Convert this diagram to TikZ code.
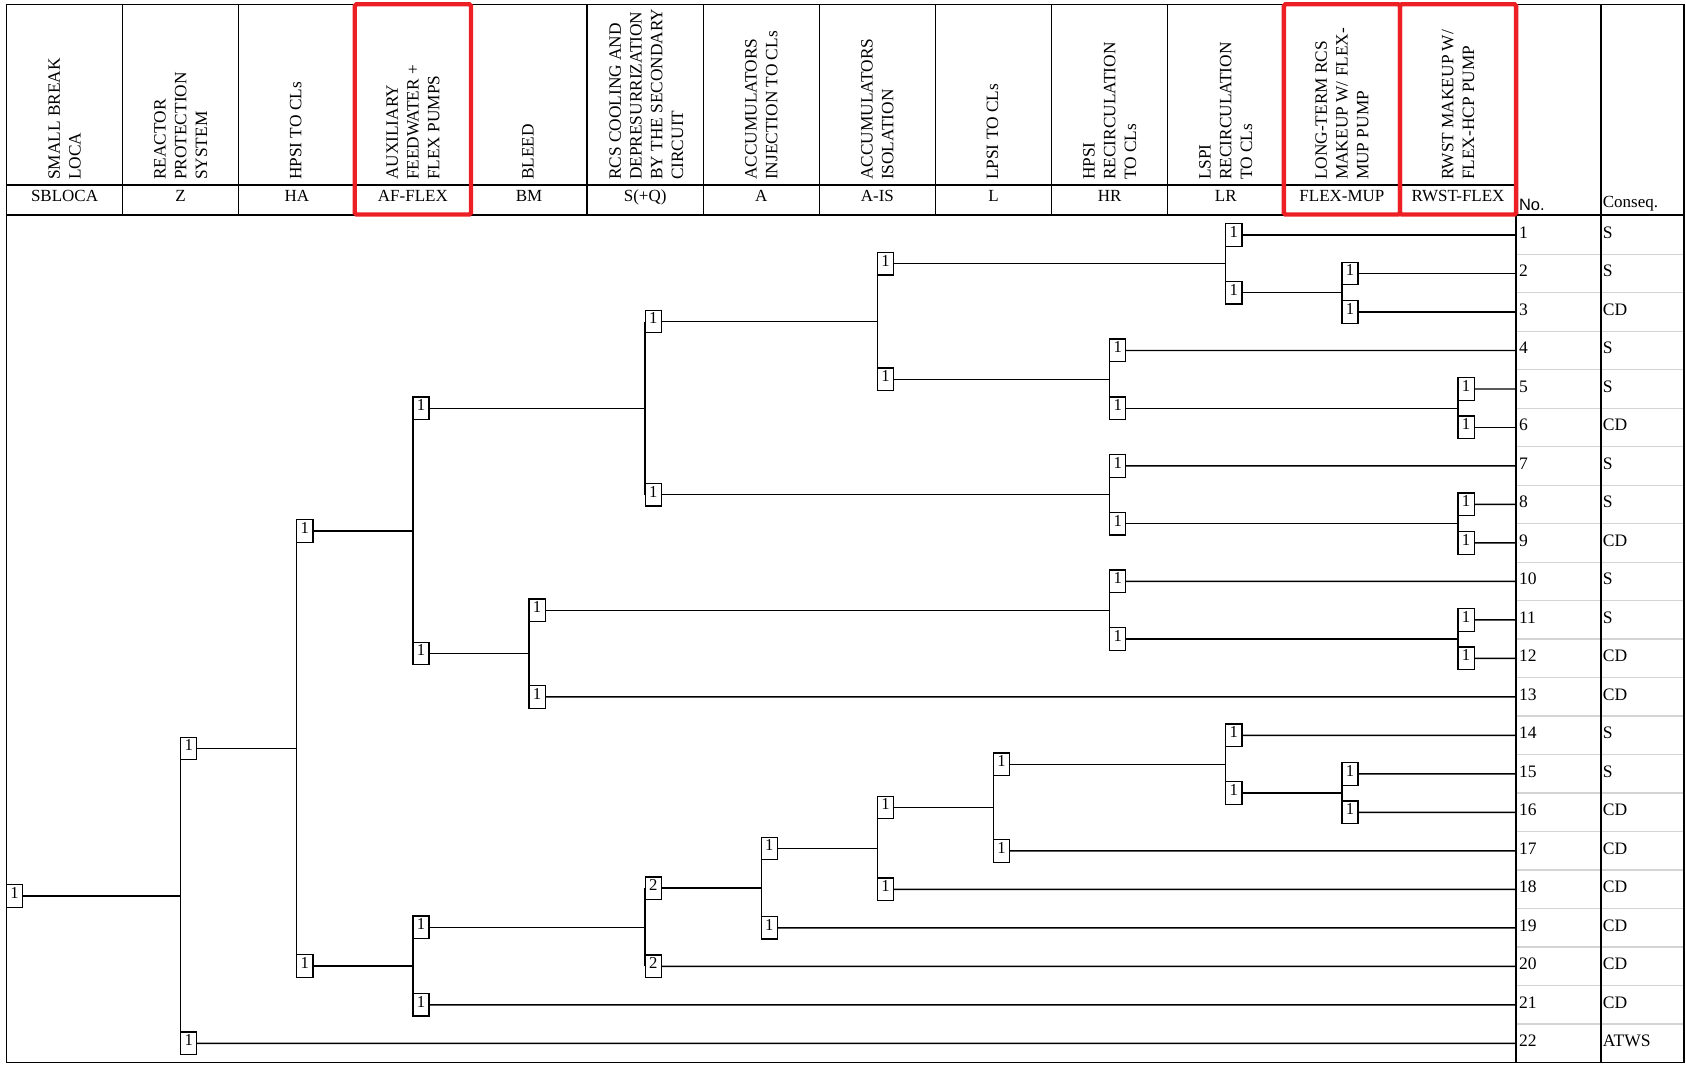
\documentclass[tikz,border=0pt]{standalone}
\usepackage{fontspec}
\setmainfont{Liberation Serif}
\newfontfamily\arialfont{Liberation Sans}
\definecolor{flexred}{RGB}{236,32,36}
\definecolor{sepgray}{RGB}{212,212,212}
\newcommand\hdrfont{\fontsize{16.1}{19.3}\selectfont}
\newcommand\codefont{\fontsize{15.8}{19}\selectfont}
\newcommand\boxfont{\fontsize{15.5}{18}\selectfont}
\newcommand\rowfont{\fontsize{16.3}{19}\selectfont}
\begin{document}
\begin{tikzpicture}[x=1pt,y=-1pt,
  ln/.style={line width=1.25pt},
  tbl/.style={line width=1.3pt},
  bx/.style={draw,line width=1.2pt,fill=white,minimum width=15pt,minimum height=21pt,inner sep=0pt,outer sep=0pt,anchor=west,font=\boxfont,text height=10.5pt,text depth=6.1pt},
  hdr/.style={rotate=90,anchor=west,align=left,inner sep=0pt,font=\hdrfont},
  codetxt/.style={anchor=base,inner sep=0pt,font=\codefont},
  rowtxt/.style={anchor=base west,inner sep=0pt,font=\rowfont},
  redbox/.style={draw=flexred,line width=4pt,rounded corners=1.5pt},
  rowsep/.style={draw=sepgray,line width=1.2pt}]
\useasboundingbox (0,0) rectangle (1568,990.4);
% row separators
\foreach \i in {1,...,21}{
  \draw[rowsep] (1410.7,{218.5+(\i-1)*35.8+17.9}) -- (1565.3,{218.5+(\i-1)*35.8+17.9});
}
% table frame
\draw[tbl] (6,4) rectangle (1566,988);
\draw[tbl] (6,200) -- (1566,200);
\draw[tbl] (6,172) -- (1410,172);
\foreach \x in {114,222,...,1302} \draw[tbl] (\x,4) -- (\x,200);
\draw[tbl] (1410,4) -- (1410,988);
\draw[tbl] (1489,4) -- (1489,988);
% headers
\node[hdr] (h0) at (60,167.5) {SMALL BREAK\\LOCA};
\node[hdr] (h1) at (168,167.5) {REACTOR\\PROTECTION\\SYSTEM};
\node[hdr] (h2) at (275,167.5) {HPSI TO CLs};
\node[hdr] (h3) at (384,167.5) {AUXILIARY\\FEEDWATER +\\FLEX PUMPS};
\node[hdr] (h4) at (491,167.5) {BLEED};
\node[hdr] (h5) at (601,167.5) {RCS COOLING AND\\DEPRESURRIZATION\\BY THE SECONDARY\\CIRCUIT};
\node[hdr] (h6) at (708,167.5) {ACCUMULATORS\\INJECTION TO CLs};
\node[hdr] (h7) at (816,167.5) {ACCUMULATORS\\ISOLATION};
\node[hdr] (h8) at (923,167.5) {LPSI TO CLs};
\node[hdr] (h9) at (1032,167.5) {HPSI\\RECIRCULATION\\TO CLs};
\node[hdr] (h10) at (1140,167.5) {LSPI\\RECIRCULATION\\TO CLs};
\node[hdr] (h11) at (1248,167.5) {LONG-TERM RCS\\MAKEUP W/ FLEX-\\MUP PUMP};
\node[hdr] (h12) at (1356,167.5) {RWST MAKEUP W/\\FLEX-HCP PUMP};
% codes
\foreach \k/\t in {0/SBLOCA,1/Z,2/HA,3/AF-FLEX,4/BM,5/S(+Q),6/A,7/A-IS,8/L,9/HR,10/LR,11/FLEX-MUP,12/RWST-FLEX}
  \node[codetxt] (c\k) at ({60+108*\k},187.5) {\t};
\node[anchor=base west,inner sep=0pt,font=\arialfont\fontsize{15.3}{18}\selectfont] (nohdr) at (1412.5,195.3) {No.};
\node[anchor=base west,inner sep=0pt,font=\codefont] (cqhdr) at (1490.5,193.4) {Conseq.};
% rows
\foreach \i/\c in {1/S,2/S,3/CD,4/S,5/S,6/CD,7/S,8/S,9/CD,10/S,11/S,12/CD,13/CD,14/S,15/S,16/CD,17/CD,18/CD,19/CD,20/CD,21/CD,22/ATWS}{
  \coordinate (e\i) at (1410,{218.5+(\i-1)*35.8});
  \node[rowtxt] (no\i) at (1412.5,{218.5+(\i-1)*35.8+3.1}) {\i};
  \node[rowtxt] (cq\i) at (1490.5,{218.5+(\i-1)*35.8+3.1}) {\c};
}
% tree nodes
\node[bx] (n0) at (6,833.2) {1};
\node[bx] (zU) at (168,696.06) {1};
\node[bx] (zD) at (168,970.3) {1};
\node[bx] (haU) at (276,493.7) {1};
\node[bx] (haD) at (276,898.42) {1};
\node[bx] (af1) at (384,379.6) {1};
\node[bx] (af2) at (384,607.8) {1};
\node[bx] (af3) at (384,862.34) {1};
\node[bx] (af4) at (384,934.5) {1};
\node[bx] (bm1) at (492,567.55) {1};
\node[bx] (bm2) at (492,648.1) {1};
\node[bx] (s1) at (600,299.05) {1};
\node[bx] (s2) at (600,460.15) {1};
\node[bx] (s3) at (600,825.98) {2};
\node[bx] (s4) at (600,898.7) {2};
\node[bx] (a1) at (708,789.05) {1};
\node[bx] (a2) at (708,862.9) {1};
\node[bx] (ai1) at (816,245.35) {1};
\node[bx] (ai2) at (816,352.75) {1};
\node[bx] (ai3) at (816,751.0) {1};
\node[bx] (ai4) at (816,827.1) {1};
\node[bx] (l1) at (924,710.75) {1};
\node[bx] (l2) at (924,791.3) {1};
\node[bx] (hr1) at (1032,325.9) {1};
\node[bx] (hr2) at (1032,379.6) {1};
\node[bx] (hr3) at (1032,433.3) {1};
\node[bx] (hr4) at (1032,487) {1};
\node[bx] (hr5) at (1032,540.7) {1};
\node[bx] (hr6) at (1032,594.4) {1};
\node[bx] (lr1) at (1140,218.5) {1};
\node[bx] (lr2) at (1140,272.2) {1};
\node[bx] (lr3) at (1140,683.9) {1};
\node[bx] (lr4) at (1140,737.6) {1};
\node[bx] (fm1) at (1248,254.3) {1};
\node[bx] (fm2) at (1248,290.1) {1};
\node[bx] (fm3) at (1248,719.7) {1};
\node[bx] (fm4) at (1248,755.5) {1};
\node[bx] (rw1) at (1356,361.7) {1};
\node[bx] (rw2) at (1356,397.5) {1};
\node[bx] (rw3) at (1356,469.1) {1};
\node[bx] (rw4) at (1356,504.9) {1};
\node[bx] (rw5) at (1356,576.5) {1};
\node[bx] (rw6) at (1356,612.3) {1};
% branches
\foreach \p/\a/\b in {n0/zU/zD, zU/haU/haD, haU/af1/af2, af1/s1/s2, s1/ai1/ai2, ai1/lr1/lr2, lr2/fm1/fm2, ai2/hr1/hr2, hr2/rw1/rw2, s2/hr3/hr4, hr4/rw3/rw4, af2/bm1/bm2, bm1/hr5/hr6, hr6/rw5/rw6, haD/af3/af4, af3/s3/s4, s3/a1/a2, a1/ai3/ai4, ai3/l1/l2, l1/lr3/lr4, lr4/fm3/fm4}
  \draw[ln] (\p.east) -- (\p.east -| \a.west) (\a.west) -- (\b.west);
% leaves
\foreach \n/\i in {lr1/1, fm1/2, fm2/3, hr1/4, rw1/5, rw2/6, hr3/7, rw3/8, rw4/9, hr5/10, rw5/11, rw6/12, bm2/13, lr3/14, fm3/15, fm4/16, l2/17, ai4/18, a2/19, s4/20, af4/21, zD/22}
  \draw[ln] (\n.east) -- (e\i);
% highlight boxes
\draw[redbox] (330,4) rectangle (438,199.5);
\draw[redbox] (1194,4) rectangle (1302,199.5);
\draw[redbox] (1302,4) rectangle (1410,199.5);
\end{tikzpicture}
\end{document}
